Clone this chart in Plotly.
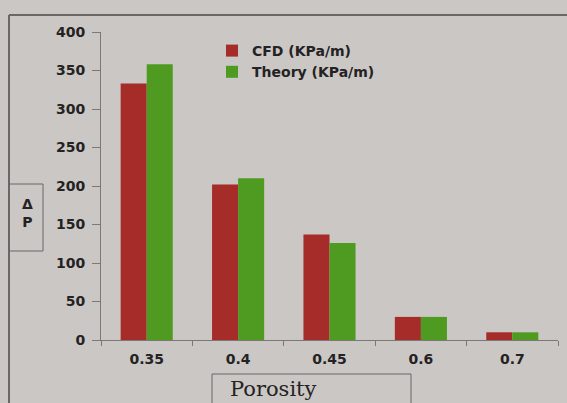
import plotly.graph_objects as go

# Pressure drop per unit length versus bed porosity
porosity = ["0.35", "0.4", "0.45", "0.6", "0.7"]
cfd = [333, 202, 137, 30, 10]
theory = [358, 210, 126, 30, 10]
y_ticks = [0, 50, 100, 150, 200, 250, 300, 350, 400]

W, H = 567, 403
L, R, T, B = 101, 9, 32, 63
pw, ph = W - L - R, H - T - B


def px_x(x):
    return (x - L) / pw


def px_y(y):
    return (H - B - y) / ph


bg = "#cac7c5"
ink = "#242222"
axis_col = "#7c7878"
frame_col = "#6a6766"
tick_font = dict(family="DejaVu Sans", size=14, color=ink, weight="bold")

fig = go.Figure()
fig.add_trace(go.Bar(name="CFD (KPa/m)", x=porosity, y=cfd,
                     marker=dict(color="#a52c28", line=dict(width=0))))
fig.add_trace(go.Bar(name="Theory (KPa/m)", x=porosity, y=theory,
                     marker=dict(color="#4f9b22", line=dict(width=0))))

fig.update_layout(
    width=W, height=H,
    margin=dict(l=L, r=R, t=T, b=B),
    paper_bgcolor=bg, plot_bgcolor=bg,
    barmode="group", bargap=0.43, bargroupgap=0,
    showlegend=True,
    legend=dict(x=px_x(212), y=px_y(35), xanchor="left", yanchor="top",
                bgcolor="rgba(0,0,0,0)", tracegroupgap=0,
                font=dict(family="DejaVu Sans", size=14, color=ink, weight="bold"),
                itemwidth=30),
    xaxis=dict(type="category", showline=True, linecolor=axis_col, linewidth=1,
               ticks="outside", tickson="boundaries", ticklen=5,
               tickcolor=axis_col, tickfont=tick_font, showgrid=False,
               zeroline=False, ticklabelstandoff=6),
    yaxis=dict(range=[0, 400], tickvals=y_ticks, showline=True,
               linecolor=axis_col, linewidth=1, ticks="outside", ticklen=8,
               tickcolor=axis_col, tickfont=tick_font, showgrid=False,
               zeroline=False, ticklabelstandoff=4),
)

# outer frame (top and left edges)
fig.add_shape(type="line", xref="paper", yref="paper",
              x0=px_x(9), x1=px_x(W), y0=px_y(15), y1=px_y(15),
              line=dict(color=frame_col, width=2))
fig.add_shape(type="line", xref="paper", yref="paper",
              x0=px_x(9), x1=px_x(9), y0=px_y(15), y1=px_y(H),
              line=dict(color=frame_col, width=2))

# y-axis title box
fig.add_shape(type="rect", xref="paper", yref="paper",
              x0=px_x(9), x1=px_x(43), y0=px_y(184), y1=px_y(251),
              line=dict(color=frame_col, width=1))
fig.add_annotation(xref="paper", yref="paper", x=px_x(27), y=px_y(213),
                   xanchor="center", yanchor="middle",
                   text="Δ<br>P", showarrow=False, align="center",
                   font=dict(family="DejaVu Sans", size=14, color=ink, weight="bold"))

# x-axis title box
fig.add_shape(type="rect", xref="paper", yref="paper",
              x0=px_x(212), x1=px_x(411), y0=px_y(374), y1=px_y(H + 5),
              line=dict(color=frame_col, width=1))
fig.add_annotation(xref="paper", yref="paper", x=px_x(228), y=px_y(389),
                   xanchor="left", yanchor="middle", text="Porosity",
                   showarrow=False,
                   font=dict(family="DejaVu Serif", size=21, color=ink))

fig.write_html("out.html")
